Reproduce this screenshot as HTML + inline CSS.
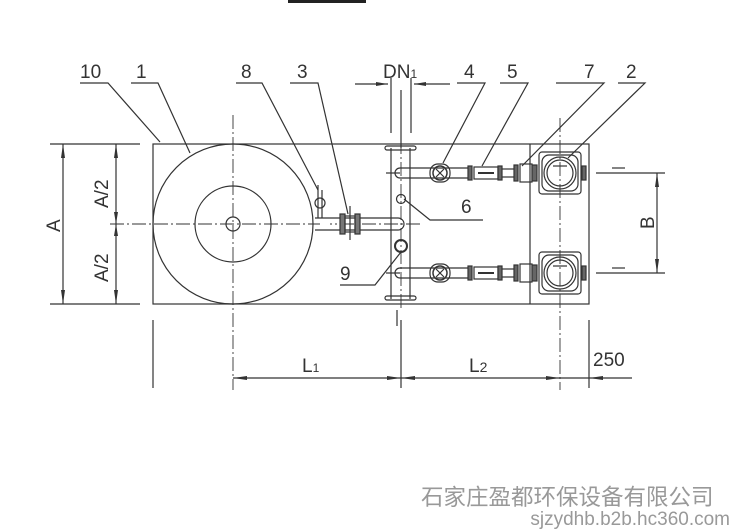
<!DOCTYPE html>
<html><head><meta charset="utf-8"><style>
html,body{margin:0;padding:0;background:#fff;}
svg{display:block;}
text{font-family:"Liberation Sans",sans-serif;fill:#333;}
</style></head><body>
<svg width="737" height="529" viewBox="0 0 737 529" xmlns="http://www.w3.org/2000/svg">
<rect x="288" y="0" width="78" height="3" fill="#222"/>
<g stroke="#333" stroke-width="1.2" fill="none">
<rect x="153" y="144" width="436" height="160"/>
<line x1="530" y1="144" x2="530" y2="304"/>
<circle cx="233" cy="224" r="80"/>
<circle cx="233" cy="224" r="38"/>
<circle cx="233" cy="224" r="7"/>
<g stroke-dasharray="14,3,2,3" stroke-width="0.9">
<line x1="110" y1="224" x2="320" y2="224"/>
<line x1="233" y1="115" x2="233" y2="390"/>
<line x1="560" y1="118" x2="560" y2="390"/>
<line x1="401" y1="140" x2="401" y2="310"/>
<line x1="420" y1="224" x2="330" y2="224"/>
</g>
<path d="M315 218 H398 A6 6 0 0 1 398 230 H315"/>
<rect x="340" y="214" width="5" height="20" fill="#777"/>
<rect x="355" y="214" width="5" height="20" fill="#777"/>
<rect x="345" y="216" width="10" height="16"/>
<line x1="350" y1="206" x2="350" y2="240"/>
<circle cx="320" cy="203" r="5"/>
<line x1="318" y1="185" x2="318" y2="218"/>
<line x1="322" y1="190" x2="322" y2="218"/>
<line x1="391" y1="148" x2="391" y2="299"/>
<line x1="410" y1="148" x2="410" y2="299"/>
<rect x="385" y="146" width="31" height="4" rx="2"/>
<rect x="385" y="296" width="31" height="4" rx="2"/>
<circle cx="401" cy="199" r="4.5"/>
<circle cx="401" cy="246" r="6" stroke-width="2"/>
<line x1="391" y1="78" x2="391" y2="133"/>
<line x1="411" y1="78" x2="411" y2="133"/>
<line x1="401" y1="90" x2="401" y2="148"/>
<line x1="355" y1="84" x2="388" y2="84"/>
<line x1="414" y1="84" x2="450" y2="84"/>
<line x1="397" y1="310" x2="397" y2="326"/>
<g id="br">
<path d="M400 168 H470 M400 178 H470 M400 168 A5 5 0 0 0 400 178"/>
<line x1="386" y1="173" x2="400" y2="173"/>
<rect x="430" y="164" width="20" height="18" rx="8"/>
<circle cx="440" cy="173" r="7" stroke-width="1.5"/>
<line x1="436" y1="169" x2="444" y2="177"/><line x1="444" y1="169" x2="436" y2="177"/>
<rect x="468" y="166" width="4" height="14" fill="#666"/>
<rect x="474" y="167" width="24" height="12"/>
<line x1="478" y1="173" x2="494" y2="173" stroke-width="2"/>
<rect x="498" y="166" width="4" height="14" fill="#666"/>
<line x1="502" y1="169" x2="515" y2="169"/><line x1="502" y1="177" x2="515" y2="177"/>
<rect x="514" y="165" width="4" height="16" fill="#666"/>
<rect x="520" y="164" width="12" height="18"/>
<rect x="532" y="165" width="5" height="16" fill="#666"/>
<rect x="539" y="152" width="42" height="42" rx="3"/>
<rect x="542" y="155" width="36" height="36" rx="7"/>
<circle cx="560" cy="173" r="16"/>
<circle cx="560" cy="173" r="13"/>
<line x1="553" y1="166" x2="567" y2="166"/>
<rect x="582" y="166" width="4" height="14" fill="#666"/>
<line x1="596" y1="173" x2="665" y2="173"/>
<line x1="612" y1="168" x2="625" y2="168"/>
</g>
<use href="#br" y="100"/>
<line x1="657" y1="173" x2="657" y2="273"/>
<line x1="50" y1="144" x2="140" y2="144"/>
<line x1="50" y1="304" x2="140" y2="304"/>
<line x1="63" y1="144" x2="63" y2="304"/>
<line x1="116" y1="144" x2="116" y2="304"/>
<line x1="153" y1="320" x2="153" y2="388"/>
<line x1="589" y1="320" x2="589" y2="388"/>
<line x1="401" y1="320" x2="401" y2="388"/>
<line x1="233" y1="378" x2="632" y2="378"/>
<polyline points="80,83 108,83 160,142"/>
<polyline points="131,83 158,83 190,153"/>
<polyline points="236,83 262,83 318,190"/>
<polyline points="290,83 318,83 348,214"/>
<polyline points="457,83 485,83 443,163"/>
<polyline points="500,83 528,83 482,166"/>
<polyline points="556,83 604,83 522,166"/>
<polyline points="618,83 645,83 568,158"/>
<polyline points="404,199 430,220 483,220"/>
<polyline points="401,252 375,285 340,285"/>
</g>
<g fill="#333">
<path d="M63 144 l-2 14 h4z M63 304 l-2 -14 h4z M116 144 l-2 14 h4z M116 304 l-2 -14 h4z M116 224 l-2 -12 h4z M116 224 l-2 12 h4z"/>
<path d="M657 173 l-2 14 h4z M657 273 l-2 -14 h4z"/>
<path d="M233 378 l14 -2 v4z M401 378 l-14 -2 v4z M401 378 l14 -2 v4z M560 378 l-14 -2 v4z M589 378 l14 -2 v4z"/>
<path d="M388 84 l-12 -2 v4z M414 84 l12 -2 v4z"/>
</g>
<g font-size="19">
<text x="80" y="78">10</text>
<text x="136" y="78">1</text>
<text x="241" y="78">8</text>
<text x="297" y="78">3</text>
<text x="383" y="78">DN<tspan font-size="12">1</tspan></text>
<text x="464" y="78">4</text>
<text x="507" y="78">5</text>
<text x="584" y="78">7</text>
<text x="626" y="78">2</text>
<text x="461" y="213">6</text>
<text x="340" y="280">9</text>
<text x="302" y="372">L<tspan font-size="12">1</tspan></text>
<text x="469" y="372">L<tspan font-size="14">2</tspan></text>
<text x="593" y="366">250</text>
<text transform="translate(60,232) rotate(-90)">A</text>
<text transform="translate(108,208) rotate(-90)">A/2</text>
<text transform="translate(108,282) rotate(-90)">A/2</text>
<text transform="translate(654,229) rotate(-90)">B</text>
</g>
<text x="421" y="505" font-size="22.5" style="font-family:'Liberation Sans','Noto Sans CJK SC',sans-serif;fill:#999">石家庄盈都环保设备有限公司</text>
<text x="730" y="525" font-size="19" text-anchor="end" style="fill:#999">sjzydhb.b2b.hc360.com</text>
</svg>
</body></html>
